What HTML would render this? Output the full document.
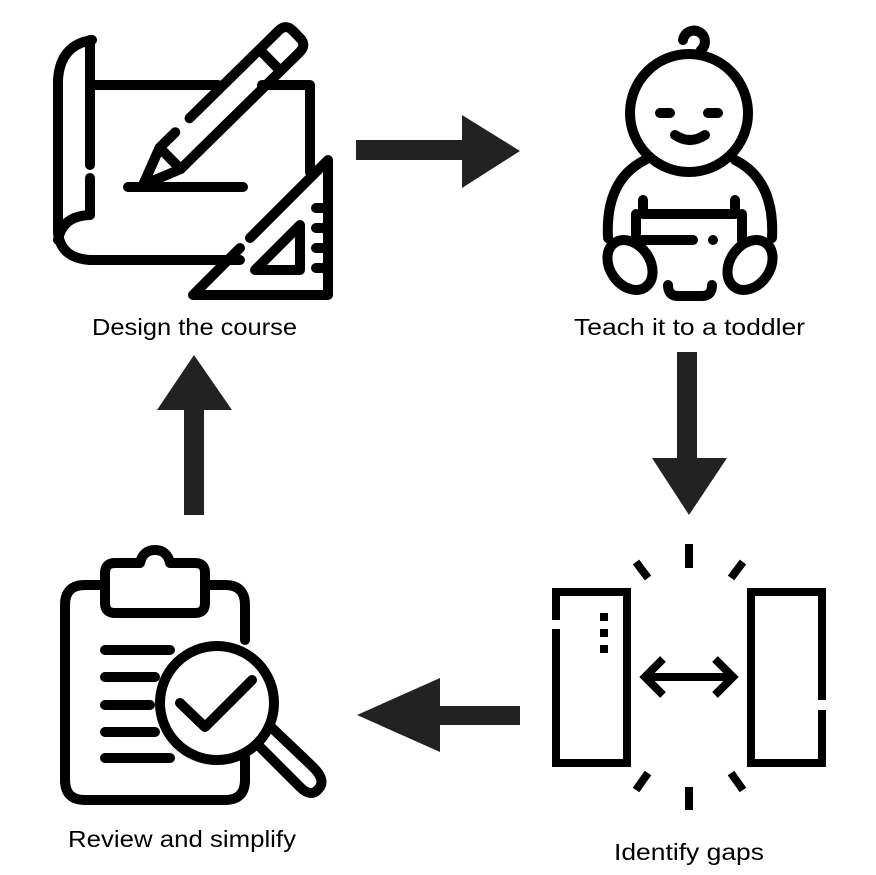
<!DOCTYPE html>
<html><head><style>html,body{margin:0;padding:0;background:#fff}svg{display:block}</style></head>
<body>
<svg width="876" height="875" viewBox="0 0 876 875" xmlns="http://www.w3.org/2000/svg">
<rect width="876" height="875" fill="#fff"/>
<g fill="none" stroke="#000" stroke-width="10" stroke-linecap="round" stroke-linejoin="round">
<!-- Design icon -->
<path d="M92 40 Q60 45 58 80 L58 232 Q60 258 90 260 L240 260"/>
<path d="M90 40 L90 165 M90 178 L90 215 Q62 216 58 240"/>
<path d="M92 85 L218 85 M262 85 L310 85 L310 172"/>
<line x1="128" y1="187" x2="243" y2="187"/>
<g transform="translate(143,185) rotate(-44.5)">
<path d="M0 0 L38 -15 M0 0 L38 15 M38 -15 L38 15"/>
<path d="M38 -15 L60 -15 M80 -15 L205 -15 Q215 -15 215 -5 L215 5 Q215 15 205 15 L38 15"/>
<line x1="178" y1="-15" x2="178" y2="15"/>
</g>
<path d="M240 248 L193 295 L328 295 L328 160 L250 238"/>
<path d="M255 270 L300 225 L300 270 Z"/>
<path d="M316 208 L328 208 M316 228 L328 228 M316 248 L328 248 M316 268 L328 268"/>
<!-- Baby -->
<circle cx="689" cy="113" r="59"/>
<path d="M683 40 A11 11 0 1 1 701 50 L702 53"/>
<path d="M660 113 L670 113 M708 113 L718 113"/>
<path d="M675 135 Q690 145 705 135"/>
<path d="M645 160 Q605 180 608 238 M735 160 Q775 180 772 238"/>
<path d="M643 200 L643 214 L735 214 L735 200"/>
<path d="M636 214 L636 240 M742 214 L742 240"/>
<path d="M636 240 L693 240 M713 240 L713 240"/>
<ellipse cx="630" cy="265" rx="20" ry="27" transform="rotate(-35 630 265)"/>
<ellipse cx="750" cy="265" rx="20" ry="27" transform="rotate(35 750 265)"/>
<path d="M668 285 Q668 296 678 296 L702 296 Q712 296 712 285"/>
<!-- Clipboard -->
<path d="M105 585 L85 585 Q65 585 65 605 L65 780 Q65 800 85 800 L225 800 Q245 800 245 780 L245 670 M245 640 L245 605 Q245 585 225 585 L205 585"/>
<path d="M115 563 L140 563 Q143 550 155 550 Q167 550 170 563 L195 563 Q205 563 205 573 L205 603 Q205 613 195 613 L115 613 Q105 613 105 603 L105 573 Q105 563 115 563 Z"/>
<path d="M105 650 L170 650 M105 677 L155 677 M105 705 L150 705 M105 732 L155 732 M105 758 L170 758"/>
<circle cx="217" cy="703" r="57" fill="#fff"/>
<path d="M180 703 L205 727 L252 680"/>
<path d="M258 745 L300 787 Q312 799 320 787 Q325 779 313 767 L272 728"/>
</g>
<!-- Gaps -->
<g fill="none" stroke="#000" stroke-width="8">
<path d="M556 620 L556 592 L627 592 L627 763 L556 763 L556 629"/>
<path d="M822 700 L822 592 L751 592 L751 763 L822 763 L822 710"/>
<path d="M645 677 L733 677 M663 659 L645 677 L663 695 M715 659 L733 677 L715 695"/>
<path d="M689 544 L689 568 M636 562 L648 578 M743 562 L731 578 M689 787 L689 810 M648 773 L636 790 M731 773 L743 790"/>
</g>
<rect x="600" y="613" width="8" height="8" fill="#000"/>
<rect x="600" y="629" width="8" height="8" fill="#000"/>
<rect x="600" y="645" width="8" height="8" fill="#000"/>
<!-- Arrows -->
<g fill="#222">
<polygon points="356,140 462,140 462,115 520,151 462,188 462,160 356,160"/>
<polygon points="677,352 697,352 697,458 727,458 689,515 652,458 677,458"/>
<polygon points="520,706 520,725 440,725 440,752 357,715 440,678 440,706"/>
<polygon points="184,515 204,515 204,410 232,410 194,355 157,410 184,410"/>
</g>
<g font-family="Liberation Sans, sans-serif" font-size="23" fill="#000">
<text x="92" y="335" textLength="205" lengthAdjust="spacingAndGlyphs">Design the course</text>
<text x="574" y="335" textLength="231" lengthAdjust="spacingAndGlyphs">Teach it to a toddler</text>
<text x="68" y="847" textLength="228" lengthAdjust="spacingAndGlyphs">Review and simplify</text>
<text x="614" y="860" textLength="150" lengthAdjust="spacingAndGlyphs">Identify gaps</text>
</g>
</svg>
</body></html>
